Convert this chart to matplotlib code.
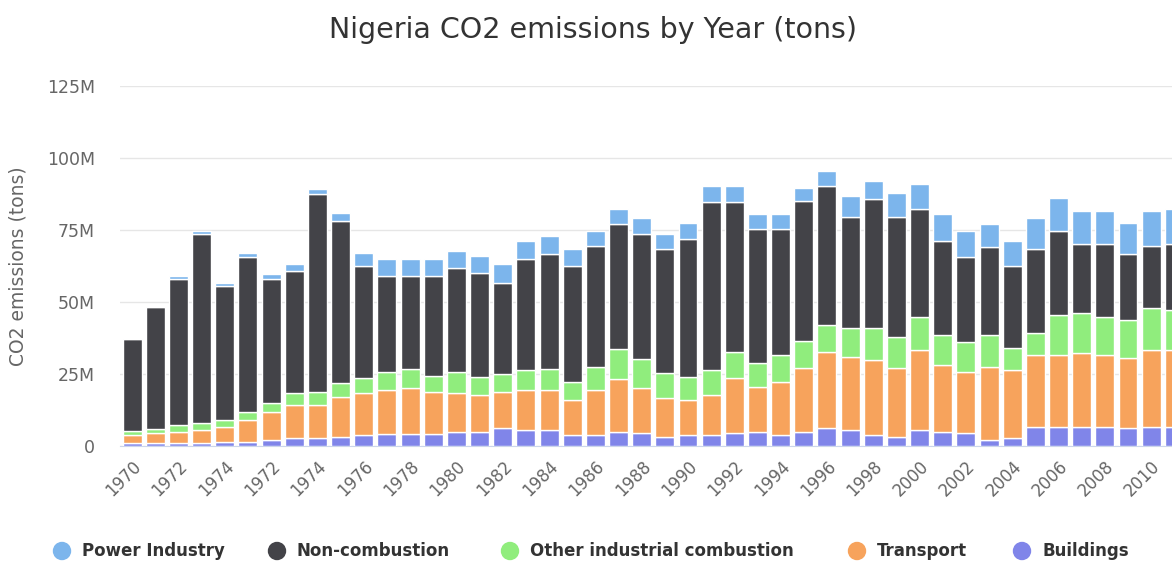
import numpy as np
import matplotlib
matplotlib.use("Agg")
import matplotlib.pyplot as plt
from matplotlib.patches import Ellipse
from matplotlib.ticker import FuncFormatter

# year labels as they come in the source data (first five repeat)
years = [1970, 1971, 1972, 1973, 1974] + list(range(1971, 2012))

# values in million tons
power = [0.0, 0.0, 1.0, 1.2, 1.0, 1.6, 1.5, 2.3, 1.7, 2.8, 4.5, 5.8, 5.8, 5.8, 5.8, 5.8,
         6.4, 6.4, 6.3, 5.8, 5.3, 5.2, 5.8, 5.1, 5.6, 5.7, 5.7, 5.1, 5.1, 4.5, 5.2, 7.4,
         6.2, 8.6, 8.7, 9.1, 9.2, 8.0, 8.6, 10.9, 11.4, 11.5, 11.5, 10.8, 12.0, 12.1]
noncomb = [31.8, 42.3, 50.7, 65.6, 46.7, 53.6, 43.3, 42.6, 68.5, 56.4, 39.1, 33.3, 32.3, 34.6, 36.3, 36.4,
           31.7, 38.4, 39.9, 40.4, 42.1, 43.3, 43.3, 43.2, 47.8, 58.2, 51.8, 46.6, 43.7, 48.6, 48.3, 38.5,
           44.9, 41.4, 37.3, 32.8, 29.3, 30.5, 28.7, 29.3, 29.3, 24.0, 25.2, 22.9, 21.8, 22.9]
other = [1.4, 1.4, 2.3, 2.3, 2.3, 2.9, 2.9, 4.1, 4.7, 4.7, 5.2, 6.3, 6.7, 5.5, 7.3, 6.1,
         6.4, 7.0, 7.3, 6.1, 7.9, 10.4, 9.9, 8.6, 8.1, 8.7, 9.3, 8.1, 9.3, 9.6, 9.2, 9.9,
         11.0, 11.0, 11.6, 10.4, 10.4, 11.0, 7.5, 7.5, 13.9, 13.9, 13.3, 13.4, 14.5, 13.9]
transport = [2.9, 3.5, 4.1, 4.7, 5.3, 7.6, 9.8, 11.5, 11.5, 13.9, 14.5, 15.4, 15.8, 14.7, 13.6, 13.0,
             12.5, 13.8, 13.8, 12.2, 15.6, 18.3, 15.9, 13.4, 12.2, 13.9, 19.1, 15.6, 18.5, 22.0, 26.7, 25.4,
             26.1, 23.8, 27.7, 23.1, 21.4, 25.4, 23.7, 24.9, 24.9, 25.5, 24.9, 24.3, 26.6, 26.6]
buildings = [0.9, 0.9, 0.9, 0.9, 1.4, 1.4, 2.1, 2.7, 2.7, 3.2, 3.8, 4.0, 4.2, 4.2, 4.7, 4.7,
             6.1, 5.6, 5.6, 3.8, 3.8, 5.0, 4.4, 3.2, 3.8, 3.8, 4.4, 5.0, 3.8, 5.0, 6.1, 5.6,
             3.8, 3.2, 5.6, 5.0, 4.4, 2.1, 2.7, 6.7, 6.7, 6.7, 6.7, 6.1, 6.7, 6.7]

names = ["Power Industry", "Non-combustion", "Other industrial combustion", "Transport", "Buildings"]
colors = ["#7cb5ec", "#434348", "#90ed7d", "#f7a35c", "#8085e9"]

plt.rcParams['font.family'] = ['DejaVu Sans']

W, H = 1172, 563
fig = plt.figure(figsize=(W/100, H/100), dpi=100)
ax = fig.add_axes([120/W, 117/H, 1052/W, 360/H])

x = np.arange(len(years))
# stack from bottom: buildings, transport, other, non-combustion, power
stack = [buildings, transport, other, noncomb, power]
stack_colors = colors[::-1]
bottom = np.zeros(len(years))
for vals, col in zip(stack, stack_colors):
    vals = np.array(vals)
    ax.bar(x, vals, bottom=bottom, width=0.82, color=col, edgecolor="white", linewidth=1, zorder=3)
    bottom += vals

ax.set_xlim(-0.527, 44.9)
ax.set_ylim(0, 125)
ax.set_yticks([0, 25, 50, 75, 100, 125])
ax.yaxis.set_major_formatter(FuncFormatter(lambda v, p: "0" if v == 0 else "%dM" % v))
ax.grid(axis="y", color="#e6e6e6", linewidth=1, zorder=0)
ax.set_axisbelow(True)
for s in ["top", "right", "left"]:
    ax.spines[s].set_visible(False)
ax.spines["bottom"].set_color("#ccd6eb")
ax.tick_params(axis="y", length=0, pad=18, labelsize=12.5, labelcolor="#666666")

ticks = x[::2]
ax.set_xticks(ticks)
ax.set_xticklabels([str(years[i]) for i in ticks], rotation=45, ha="right", va="top",
                   rotation_mode="anchor", fontsize=12, color="#666666")
ax.tick_params(axis="x", length=0, pad=8)

fig.text(18/W, 1 - 266/H, "CO2 emissions (tons)", rotation=90, ha="center", va="center",
         fontsize=13.5, color="#666666")

fig.text(593/W, 1 - 30/H, "Nigeria CO2 emissions by Year (tons)", ha="center", va="center",
         fontsize=20.5, color="#333333")

# legend along the bottom
leg_x = [62, 277, 510, 857, 1022]
for lx, name, col in zip(leg_x, names, colors):
    fig.patches.append(Ellipse((lx/W, 1 - 551/H), 17/W, 17/H,
                               transform=fig.transFigure, color=col, figure=fig))
    fig.text((lx + 20)/W, 1 - 551/H, name, ha="left", va="center", fontsize=12,
             fontweight="bold", color="#333333")

fig.savefig("out.png", dpi=100)
